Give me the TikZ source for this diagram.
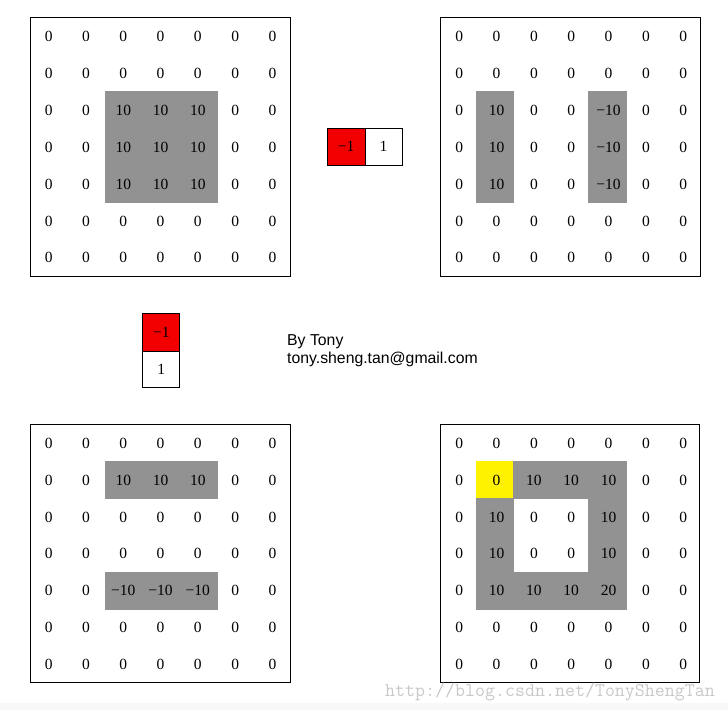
\documentclass[tikz,border=0pt]{standalone}
\usepackage{fontspec}
\setmainfont{Liberation Serif}
\newfontfamily\sansf{Liberation Sans}
\definecolor{cellgray}{RGB}{146,146,146}
\definecolor{kred}{RGB}{242,0,0}
\definecolor{wmgray}{RGB}{200,200,200}
\definecolor{stripgray}{RGB}{248,248,248}
\tikzset{
  num/.style={inner sep=0pt, font=\fontsize{15.5}{15.5}\selectfont},
  frame/.style={draw=black, line width=1pt},
  kcell/.style={draw=black, line width=1pt, inner sep=0pt, outer sep=0pt, font=\fontsize{15.5}{15.5}\selectfont},
  grayfill/.style={fill=cellgray, draw=none},
}
\newcommand{\cs}{37.3}
\begin{document}
\begin{tikzpicture}[x=1pt,y=-1pt]
\useasboundingbox (0,0) rectangle (728,710);
\fill[stripgray] (0,703) rectangle (728,710);

% ---------- Matrix A (top-left) ----------
\fill[grayfill] (105,91) rectangle (218,203);
\draw[frame] (30,17) rectangle (290,276);
\foreach \row [count=\r from 0] in {{0,0,0,0,0,0,0},{0,0,0,0,0,0,0},{0,0,10,10,10,0,0},{0,0,10,10,10,0,0},{0,0,10,10,10,0,0},{0,0,0,0,0,0,0},{0,0,0,0,0,0,0}}{
  \foreach \v [count=\c from 0] in \row {
    \node[num] (A-\r-\c) at ({30+\cs*(\c+0.5)},{36.8+36.85*\r}) {\v};
  }
}

% ---------- Matrix B (top-right) ----------
\fill[grayfill] (476,91) rectangle (514,203);
\fill[grayfill] (588,91) rectangle (627,203);
\draw[frame] (440.5,17) rectangle (700,276);
\foreach \row [count=\r from 0] in {{0,0,0,0,0,0,0},{0,0,0,0,0,0,0},{0,10,0,0,−10,0,0},{0,10,0,0,−10,0,0},{0,10,0,0,−10,0,0},{0,0,0,0,0,0,0},{0,0,0,0,0,0,0}}{
  \foreach \v [count=\c from 0] in \row {
    \node[num] (B-\r-\c) at ({440.5+37.35*(\c+0.5)},{36.8+36.85*\r}) {\v};
  }
}

% ---------- Matrix C (bottom-left) ----------
\fill[grayfill] (105,461) rectangle (218,499);
\fill[grayfill] (105,572) rectangle (218,610);
\draw[frame] (30,424) rectangle (290,682);
\foreach \row [count=\r from 0] in {{0,0,0,0,0,0,0},{0,0,10,10,10,0,0},{0,0,0,0,0,0,0},{0,0,0,0,0,0,0},{0,0,−10,−10,−10,0,0},{0,0,0,0,0,0,0},{0,0,0,0,0,0,0}}{
  \foreach \v [count=\c from 0] in \row {
    \node[num] (C-\r-\c) at ({30+\cs*(\c+0.5)},{443.3+36.85*\r}) {\v};
  }
}

% ---------- Matrix D (bottom-right) ----------
\fill[grayfill] (476,461) rectangle (627,610);
\fill[white] (514,499) rectangle (588,572);
\fill[yellow] (476,461) rectangle (513,498);
\draw[frame] (440.5,424) rectangle (699,682);
\foreach \row [count=\r from 0] in {{0,0,0,0,0,0,0},{0,0,10,10,10,0,0},{0,10,0,0,10,0,0},{0,10,0,0,10,0,0},{0,10,10,10,20,0,0},{0,0,0,0,0,0,0},{0,0,0,0,0,0,0}}{
  \foreach \v [count=\c from 0] in \row {
    \node[num] (D-\r-\c) at ({440.5+37.35*(\c+0.5)},{443.3+36.85*\r}) {\v};
  }
}

% ---------- Kernels ----------
\node[kcell, fill=kred, minimum width=38pt, minimum height=37pt] (k1a) at (346,146.5) {−1};
\node[kcell, fill=white, minimum width=37pt, minimum height=37pt] (k1b) at (383.5,146.5) {1};

\node[kcell, fill=kred, minimum width=37.3pt, minimum height=38pt] (k2a) at (161.3,332) {−1};
\node[kcell, fill=white, minimum width=37.3pt, minimum height=36pt] (k2b) at (161.3,369) {1};

% ---------- Author text ----------
\node[anchor=base west, inner sep=0pt, font=\sansf\fontsize{15.8}{18}\selectfont] (by1) at (287,345) {By Tony};
\node[anchor=base west, inner sep=0pt, font=\sansf\fontsize{15.8}{18}\selectfont] (by2) at (287,363) {tony.sheng.tan@gmail.com};

% ---------- Watermark ----------
\node[anchor=base west, inner sep=0pt, text=wmgray, font=\ttfamily\fontsize{19.4}{19.4}\selectfont] (wm) at (385,696) {http://blog.csdn.net/TonyShengTan};
\end{tikzpicture}
\end{document}
